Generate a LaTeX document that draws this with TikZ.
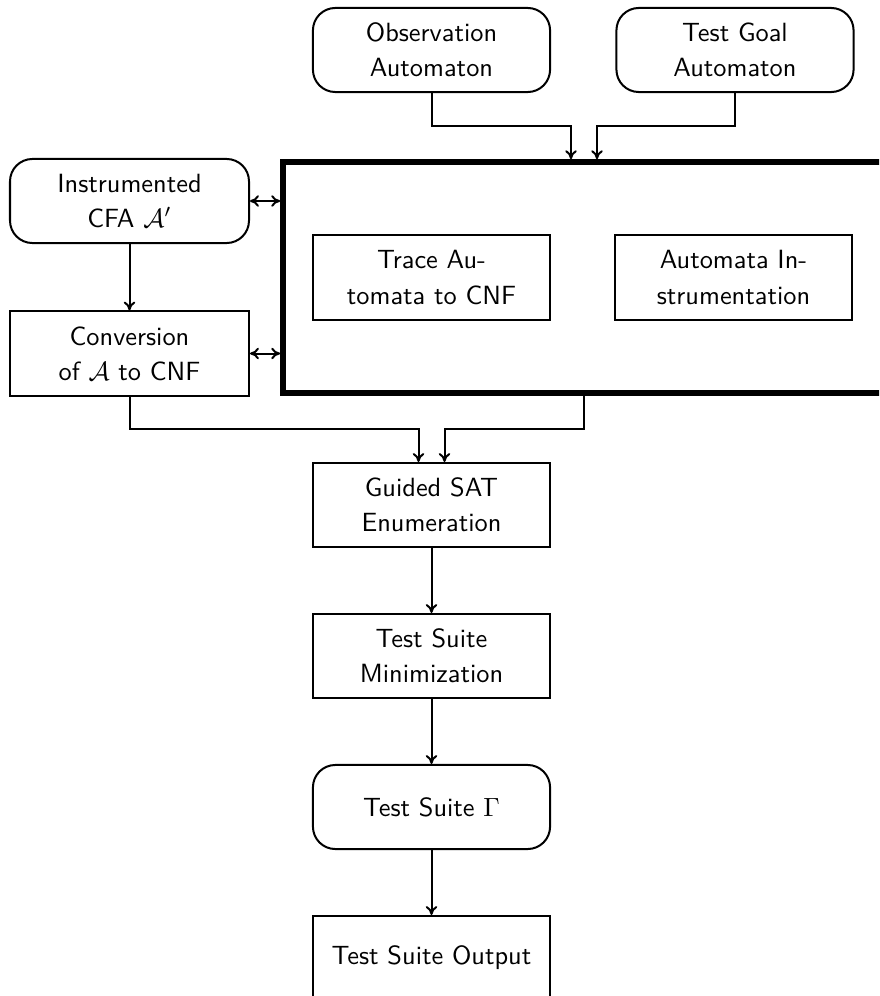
\documentclass[tikz,border=0pt]{standalone}
\usetikzlibrary{calc,arrows.meta}
\begin{document}
\begin{tikzpicture}[
  x=0.3795pt, y=-0.3795pt,
  tip/.tip={To[length=3.4pt, width=4.4pt]},
  blk/.style={draw, line width=0.76pt, minimum width=90pt, minimum height=31.9pt,
    inner sep=2pt, align=center, font=\sffamily\fontsize{10}{13.3}\selectfont},
  rblk/.style={blk, rounded corners=8.5pt},
  corebox/.style={draw, line width=2.1pt, minimum width=228.5pt, minimum height=87.7pt},
  flow/.style={line width=0.76pt, -tip},
  both/.style={line width=0.76pt, tip-tip}
]
\clip (0,0) rectangle (879,996);

% inputs
\node[rblk] (obs)  at (431.5,50) {Observation\\Automaton};
\node[rblk] (goal) at (735,50)   {Test Goal\\Automaton};

% left column
\node[rblk, minimum width=90.7pt] (inst) at (129.5,201)   {Instrumented\\CFA $\mathcal{A}'$};
\node[blk,  minimum width=90.7pt] (conv) at (129.5,353.5) {Conversion\\of $\mathcal{A}$ to CNF};

% central processing block
\node[corebox] (core) at (584,277.5) {};
\node[blk] (trace) at (431.5,277.5) {Trace Au-\\tomata to CNF};
\node[blk] (instr) at (733.5,277.5) {Automata In-\\strumentation};

% main pipeline
\node[blk]  (sat)  at (431.5,505) {Guided SAT\\Enumeration};
\node[blk]  (mini) at (431.5,656) {Test Suite\\Minimization};
\node[rblk] (suite) at (431.5,807) {Test Suite $\Gamma$};
\node[blk]  (out)  at (431.5,958) {Test Suite Output};

% junction heights
\coordinate (jt) at (0,126);
\coordinate (jb) at (0,429);

\draw[flow] (obs.south) -- (obs.south |- jt) -| ($(core.north)+(-13,0)$);
\draw[flow] (goal.south) -- (goal.south |- jt) -| ($(core.north)+(13,0)$);

\draw[both] (inst.east) -- (inst.east -| core.west);
\draw[both] (conv.east) -- (conv.east -| core.west);
\draw[flow] (inst) -- (conv);

\draw[flow] (conv.south) -- (conv.south |- jb) -| ($(sat.north)+(-13,0)$);
\draw[flow] (core.south) -- (core.south |- jb) -| ($(sat.north)+(13,0)$);

\draw[flow] (sat) -- (mini);
\draw[flow] (mini) -- (suite);
\draw[flow] (suite) -- (out);
\end{tikzpicture}
\end{document}
